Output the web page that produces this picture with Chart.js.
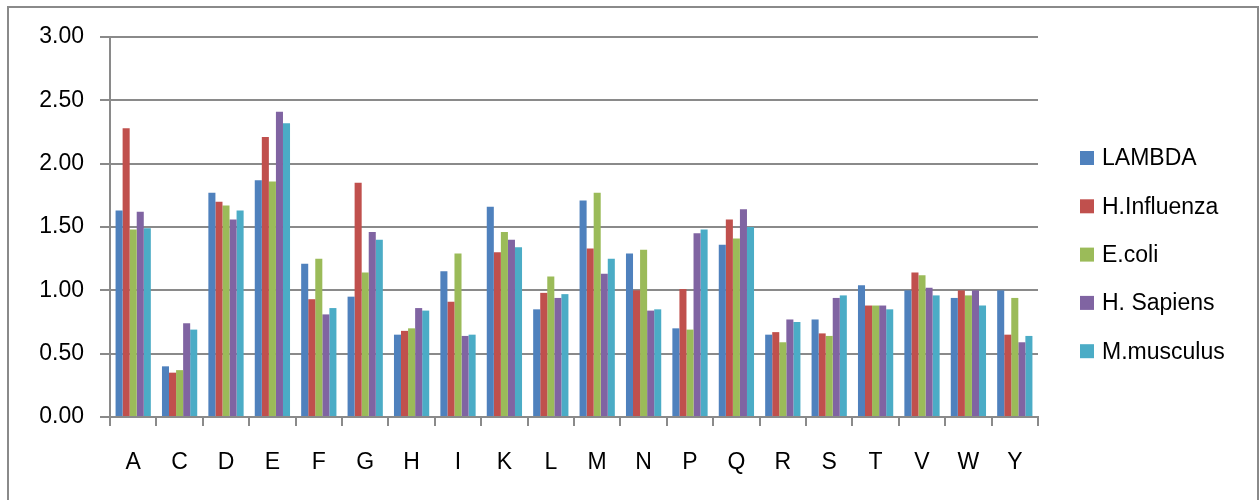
<!DOCTYPE html>
<html>
<head>
<meta charset="utf-8">
<script src="https://cdn.jsdelivr.net/npm/chart.js@4"></script>
<style>
  html, body { margin: 0; padding: 0; background: #ffffff; }
  #wrap { width: 1260px; height: 500px; position: relative; }
</style>
</head>
<body>
<div id="wrap"><canvas id="c" width="1260" height="500"></canvas></div>
<script>
// Amino acid categories
const categories = ['A','C','D','E','F','G','H','I','K','L','M','N','P','Q','R','S','T','V','W','Y'];

// Series values per organism
const lambda     = [1.63, 0.40, 1.77, 1.87, 1.21, 0.95, 0.65, 1.15, 1.66, 0.85, 1.71, 1.29, 0.70, 1.36, 0.65, 0.77, 1.04, 1.00, 0.94, 1.00];
const hInfluenza = [2.28, 0.35, 1.70, 2.21, 0.93, 1.85, 0.68, 0.91, 1.30, 0.98, 1.33, 1.00, 1.01, 1.56, 0.67, 0.66, 0.88, 1.14, 1.00, 0.65];
const eColi      = [1.48, 0.37, 1.67, 1.86, 1.25, 1.14, 0.70, 1.29, 1.46, 1.11, 1.77, 1.32, 0.69, 1.41, 0.59, 0.64, 0.88, 1.12, 0.96, 0.94];
const hSapiens   = [1.62, 0.74, 1.56, 2.41, 0.81, 1.46, 0.86, 0.64, 1.40, 0.94, 1.13, 0.84, 1.45, 1.64, 0.77, 0.94, 0.88, 1.02, 1.00, 0.59];
const mMusculus  = [1.49, 0.69, 1.63, 2.32, 0.86, 1.40, 0.84, 0.65, 1.34, 0.97, 1.25, 0.85, 1.48, 1.50, 0.75, 0.96, 0.85, 0.96, 0.88, 0.64];

const seriesNames = ['LAMBDA', 'H.Influenza', 'E.coli', 'H. Sapiens', 'M.musculus'];
const seriesColors = ['#4F81BD', '#C0504D', '#9BBB59', '#8064A2', '#4BACC6'];
const seriesValues = [lambda, hInfluenza, eColi, hSapiens, mMusculus];

// Y axis range and tick spacing
const yMin = 0, yMax = 3, yStep = 0.5;

const FONT = 'Liberation Sans, Arial, sans-serif';
const GRID = '#8a8a8a';

// Outer frame around the chart
const framePlugin = {
  id: 'frame',
  afterDraw(chart) {
    const ctx = chart.ctx;
    ctx.save();
    ctx.strokeStyle = GRID;
    ctx.lineWidth = 2;
    ctx.strokeRect(8, 7, 1250, 520);
    ctx.restore();
  }
};

// Legend drawn at the right of the plot, one row per series
const sideLegend = {
  id: 'sideLegend',
  afterDraw(chart) {
    const ctx = chart.ctx;
    const x0 = 1080, yFirst = 158, gap = 48.3, box = 14;
    ctx.save();
    ctx.font = '23px ' + FONT;
    ctx.textBaseline = 'middle';
    ctx.textAlign = 'left';
    chart.data.datasets.forEach((ds, i) => {
      const y = yFirst + i * gap;
      ctx.fillStyle = ds.backgroundColor;
      ctx.fillRect(x0, y - box / 2, box, box);
      ctx.fillStyle = '#000000';
      ctx.fillText(ds.label, x0 + 22, y + 1);
    });
    ctx.restore();
  }
};

new Chart(document.getElementById('c'), {
  type: 'bar',
  data: {
    labels: categories,
    datasets: seriesNames.map((name, i) => ({
      label: name,
      data: seriesValues[i],
      backgroundColor: seriesColors[i],
      borderWidth: 0,
      barPercentage: 1.0,
      categoryPercentage: 0.76
    }))
  },
  options: {
    responsive: false,
    animation: false,
    devicePixelRatio: 1,
    layout: { padding: { left: 0, right: 222, top: 37, bottom: 0 } },
    plugins: {
      legend: { display: false },
      tooltip: { enabled: false }
    },
    scales: {
      x: {
        afterFit(scale) { scale.height = 83; },
        grid: {
          display: true,
          drawOnChartArea: false,
          drawTicks: true,
          tickLength: 9,
          color: GRID,
          lineWidth: 2,
          offset: true
        },
        border: { color: GRID, width: 2 },
        ticks: {
          color: '#000000',
          font: { family: FONT, size: 23 },
          padding: 23,
          maxRotation: 0,
          autoSkip: false
        }
      },
      y: {
        min: yMin,
        max: yMax,
        afterFit(scale) { scale.width = 110; },
        grid: {
          color: GRID,
          lineWidth: 2,
          tickLength: 10
        },
        border: { color: GRID, width: 2 },
        ticks: {
          stepSize: yStep,
          color: '#000000',
          font: { family: FONT, size: 23 },
          padding: 16,
          callback: v => Number(v).toFixed(2)
        }
      }
    }
  },
  plugins: [framePlugin, sideLegend]
});
</script>
</body>
</html>
